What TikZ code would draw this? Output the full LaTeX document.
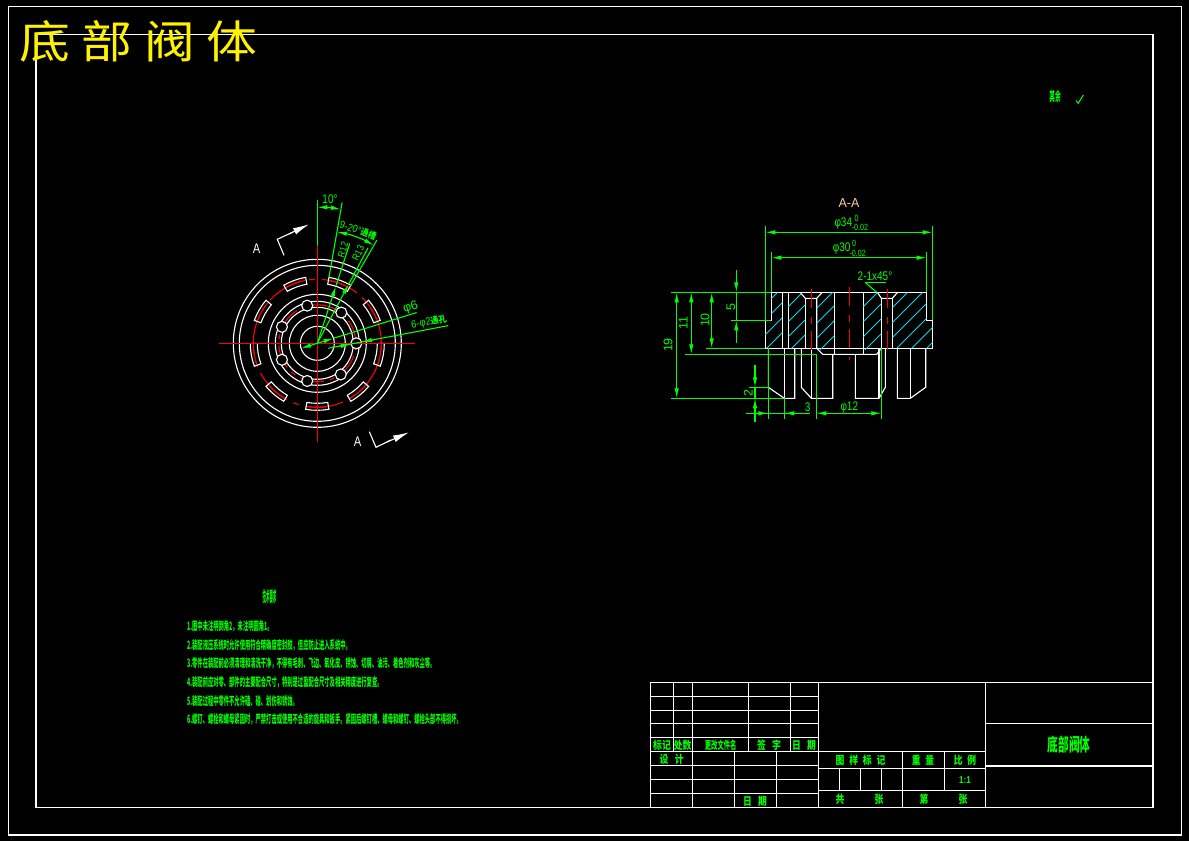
\documentclass[tikz,border=0pt]{standalone}
\usepackage{fontspec}
\setmainfont{Liberation Sans}
\newfontfamily\cjk{Noto Sans CJK SC}
\usetikzlibrary{arrows.meta}

\definecolor{cadgreen}{RGB}{0,255,0}
\definecolor{cadred}{RGB}{255,0,0}
\definecolor{cadcyan}{RGB}{0,220,235}
\definecolor{cadorange}{RGB}{255,204,153}

\tikzset{
	white line/.style = {
		draw = white,
		line width = 1.1pt
	},
	hatch line/.style = {
		draw = cadcyan,
		line width = 0.8pt
	},
	red line/.style = {
		draw = cadred,
		line width = 1.1pt
	},
	center line/.style = {
		red line,
		dash pattern = on 38pt off 7pt on 6pt off 7pt
	},
	inner center/.style = {
		red line,
		dash pattern = on 24pt off 6pt on 5pt off 6pt
	},
	axis line/.style = {
		red line,
		dash pattern = on 19pt off 9pt on 7pt off 7pt
	},
	dim line/.style = {
		draw = cadgreen,
		line width = 1.1pt
	},
	dim both/.style = {
		dim line,
		{Latex[length=10pt,width=4.5pt]}-{Latex[length=10pt,width=4.5pt]}
	},
	dim tip/.style = {
		dim line,
		-{Latex[length=10pt,width=4.5pt]}
	},
	cut tip/.style = {
		white line,
		-{Latex[length=16pt,width=7pt]}
	},
	dim text/.style = {
		text = cadgreen,
		inner sep = 0pt,
		font = \fontsize{12.5}{13}\selectfont,
		xscale = 0.8
	},
	turn text/.style = {
		text = cadgreen,
		inner sep = 0pt,
		font = \fontsize{12.5}{13}\selectfont,
		rotate = #1
	},
	tol text/.style = {
		dim text,
		font = \fontsize{9}{10}\selectfont
	},
	cut text/.style = {
		dim text,
		text = white,
		font = \fontsize{14}{15}\selectfont
	},
	note text/.style = {
		text = cadgreen,
		inner sep = 0pt,
		font = \cjk\bfseries\fontsize{11.5}{12}\selectfont,
		xscale = 0.46,
		anchor = west
	},
	table text/.style = {
		text = cadgreen,
		inner sep = 0pt,
		font = \cjk\bfseries\fontsize{11}{12}\selectfont,
		xscale = 0.8
	}
}

\begin{document}
\begin{tikzpicture}[x=1pt,y=-1pt]
	\useasboundingbox (0,0) rectangle (1189,841);
	\fill[black] (0,0) rectangle (1189,841);

	% frames
	\draw[white line] (8.3,6.3) rectangle (1181.3,835);
	\draw[white line] (36,34.5) rectangle (1153,807.3);
	\node at (138.5,41.5) [inner sep=0pt, text=yellow, xscale=1.13, font=\cjk\fontsize{45}{46}\selectfont] (title) {底\hspace{10pt}部\hspace{10pt}阀\hspace{10pt}体};
	\node at (1055,96) [table text, font=\cjk\bfseries\fontsize{13}{14}\selectfont, xscale=0.55] (rest) {其余};
	\draw[dim line] (1076,100.7) -- (1078.3,103.3) -- (1083.3,95);

	% front view
	\begin{scope}[shift={(317.3,343.3)},y=1pt]
		\foreach \rad in {84,78,49,42,36,28,17}
			\draw[white line] (0,0) circle (\rad);
		\draw[center line] (0,0) circle (64);
		\draw[inner center] (0,0) circle (38.5);
		\foreach \ang in {0,52,105,155,205,255,307}
			\draw[white line, fill=black] (\ang:39) circle (5.5);
		\foreach \ang in {70,30,-10,-50,-90,-130,-170,150,110} {
			\draw[white line] (\ang-10:60) arc (\ang-10:\ang+10:60) -- (\ang+10:67) arc (\ang+10:\ang-10:67) -- cycle;
			\draw[red line] (\ang-9:64) arc (\ang-9:\ang+9:64);
		}
		\draw[red line] (-98,0) -- (98,0);
		\draw[red line] (0,97) -- (0,-99);
		% angle dimensions
		\draw[dim line] (0,97) -- (0,143);
		\draw[dim line] (80:66) -- (80:143);
		\draw[dim line] (60:66) -- (60:119);
		\draw[dim both] (90:136) arc (90:80:136);
		\draw[dim both] (80:113) arc (80:60:113);
		\draw[dim tip] (0,0) -- (72:60);
		\draw[dim line] (72:60) -- (72:105);
		\draw[dim tip] (0,0) -- (62:67);
		\draw[dim line] (62:67) -- (62:108);
		% leaders
		\draw[dim both] (197.2:17) -- (17.2:17);
		\draw[dim line] (17.2:17) -- (17.2:104);
		\draw[dim line] (11,-5) -- (131,17.7);
		\draw[dim tip] (21,-3.1) -- (33.5,-0.7);
		\draw[dim tip] (57,3.8) -- (44.5,1.3);
		\node at (74.7:97) [turn text=74, font=\fontsize{10}{11}\selectfont, xscale=0.85] (radinner) {R12};
		\node at (65.6:99) [turn text=64, font=\fontsize{10}{11}\selectfont, xscale=0.85] (radouter) {R13};
	\end{scope}

	% section marks
	\draw[white line] (284,255.3) -- (277.3,239.3) -- (293,232);
	\draw[cut tip] (289,234) -- (309,224.3);
	\node at (256.7,248.3) [cut text] (cutleft) {A};
	\draw[white line] (369.3,431.7) -- (376,447.3) -- (391,440);
	\draw[cut tip] (387,442) -- (409,432.3);
	\node at (357.7,441.7) [cut text] (cutright) {A};
	\node at (330,199.5) [dim text] (tenang) {10°};
	\node at (358,230.5) [turn text=-19, font=\fontsize{10.5}{11}\selectfont, xscale=0.88] (slottext) {9-20°{\cjk\bfseries\fontsize{9}{10}\selectfont 通槽}};
	\node at (410.7,307.3) [turn text=17] (bore) {φ6};
	\node at (429,322.5) [turn text=10, font=\fontsize{10.5}{11}\selectfont, xscale=0.9] (holes) {6-φ2{\cjk\bfseries\fontsize{9}{10}\selectfont 通孔}};

	% section view
	\draw[white line] (771.3,292.3) -- (926.7,292.3) -- (926.7,320.3) -- (932.7,320.3) -- (932.7,348.3) -- (765.3,348.3) -- (765.3,320.3) -- (771.3,320.3) -- cycle;
	\draw[white line] (782.3,292.3) -- (782.3,348.3);
	\draw[white line] (788.3,292.3) -- (788.3,348.3);
	\draw[white line] (800,292.3) -- (805.3,298.3) -- (816.7,298.3) -- (822.3,292.3);
	\draw[white line] (805.3,298.3) -- (805.3,348.3);
	\draw[white line] (816.7,298.3) -- (816.7,348.3) -- (822.7,354.3) -- (876.7,354.3) -- (881.3,348.3);
	\draw[white line] (834.3,292.3) -- (834.3,354.3);
	\draw[white line] (863.3,292.3) -- (863.3,354.3);
	\draw[white line] (877.3,292.3) -- (881.3,298.3) -- (892.3,298.3) -- (897.7,292.3);
	\draw[white line] (881.3,298.3) -- (881.3,348.3);
	\draw[white line] (892.3,298.3) -- (892.3,348.3);
	% legs
	\draw[white line] (768.3,348.3) -- (768.3,387.3) -- (784.3,398.3) -- (794.7,398.3) -- (794.7,348.3);
	\draw[white line] (784.3,348.3) -- (784.3,398.3);
	\draw[white line] (801.3,348.3) -- (801.3,387.3) -- (811.3,398.3) -- (832.7,398.3) -- (832.7,354.3);
	\draw[white line] (811.3,348.3) -- (811.3,398.3);
	\draw[white line] (855.3,354.3) -- (855.3,398.3) -- (879,398.3) -- (885.3,387.3) -- (885.3,348.3);
	\draw[white line] (879,348.3) -- (879,398.3);
	\draw[white line] (897.3,348.3) -- (897.3,398.3) -- (910.3,398.3) -- (925.7,387.3) -- (925.7,348.3);
	\draw[white line] (910.3,348.3) -- (910.3,398.3);
	% hatching
	\begin{scope}
		\clip (771.3,292.3) -- (782.3,292.3) -- (782.3,348.3) -- (765.3,348.3) -- (765.3,320.3) -- (771.3,320.3) -- cycle;
		\foreach \hx in {705,720,...,780}
			\draw[hatch line] (\hx,350) -- ++(70,-70);
	\end{scope}
	\begin{scope}
		\clip (788.3,292.3) -- (800,292.3) -- (805.3,298.3) -- (805.3,348.3) -- (788.3,348.3) -- cycle;
		\foreach \hx in {730,745,...,805}
			\draw[hatch line] (\hx,350) -- ++(70,-70);
	\end{scope}
	\begin{scope}
		\clip (822.3,292.3) -- (834.3,292.3) -- (834.3,354.3) -- (822.7,354.3) -- (816.7,348.3) -- (816.7,298.3) -- cycle;
		\foreach \hx in {760,775,...,835}
			\draw[hatch line] (\hx,350) -- ++(70,-70);
	\end{scope}
	\begin{scope}
		\clip (863.3,292.3) -- (877.3,292.3) -- (881.3,298.3) -- (881.3,348.3) -- (876.7,354.3) -- (863.3,354.3) -- cycle;
		\foreach \hx in {805,820,...,880}
			\draw[hatch line] (\hx,350) -- ++(70,-70);
	\end{scope}
	\begin{scope}
		\clip (897.7,292.3) -- (926.7,292.3) -- (926.7,320.3) -- (932.7,320.3) -- (932.7,348.3) -- (892.3,348.3) -- (892.3,298.3) -- cycle;
		\foreach \hx in {835,850,...,930}
			\draw[hatch line] (\hx,350) -- ++(70,-70);
	\end{scope}
	% axes
	\draw[axis line] (811.3,289) -- (811.3,352);
	\draw[axis line] (849.3,287) -- (849.3,360);
	\draw[axis line] (887.7,289) -- (887.7,352);

	% section dimensions
	\node at (849,203) [dim text, text=cadorange, xscale=1.2, font=\fontsize{13}{14}\selectfont] (sectionname) {A-A};
	\draw[dim line] (765.3,226) -- (765.3,320.3);
	\draw[dim line] (932.7,226) -- (932.7,320.3);
	\draw[dim line] (771.3,251.7) -- (771.3,292.3);
	\draw[dim line] (926.7,251.7) -- (926.7,292.3);
	\draw[dim both] (765.3,232.3) -- (932.7,232.3);
	\draw[dim both] (771.3,257.7) -- (926.7,257.7);
	\node at (843.3,223) [dim text] (widthA) {φ34};
	\node at (856.7,218) [tol text] (widthAup) {0};
	\node at (860,227.7) [tol text] (widthAlow) {-0.02};
	\node at (841.7,248.5) [dim text] (widthB) {φ30};
	\node at (854,243.5) [tol text] (widthBup) {0};
	\node at (857.7,253.3) [tol text] (widthBlow) {-0.02};
	\node at (875,276) [dim text] (chamfer) {2-1x45°};
	\draw[dim line] (865,282.3) -- (886,282.3);
	\draw[dim line] (865,282.3) -- (876.7,292.3);
	\draw[dim line] (671,292.3) -- (771.3,292.3);
	\draw[dim line] (671,398.3) -- (784.3,398.3);
	\draw[dim line] (706,348.3) -- (765.3,348.3);
	\draw[dim line] (685,354.3) -- (816.7,354.3);
	\draw[dim line] (731,320.3) -- (771.3,320.3);
	\draw[dim both] (676.7,292.3) -- (676.7,398.3);
	\draw[dim both] (691.3,292.3) -- (691.3,354.3);
	\draw[dim both] (711.7,292.3) -- (711.7,348.3);
	\draw[dim tip] (736.3,270) -- (736.3,292.3);
	\draw[dim tip] (736.3,342.7) -- (736.3,320.3);
	\draw[dim line] (736.3,292.3) -- (736.3,320.3);
	\node at (668,345) [turn text=90] (heightA) {19};
	\node at (683.3,322.7) [turn text=90] (heightB) {11};
	\node at (705,320) [turn text=90] (heightC) {10};
	\node at (731,306.7) [turn text=90] (heightD) {5};
	\draw[dim line] (749,387.3) -- (768.3,387.3);
	\draw[dim tip] (755,365) -- (755,387.3);
	\draw[dim tip] (755,421.7) -- (755,398.3);
	\draw[dim line] (755,387.3) -- (755,398.3);
	\node at (748.3,393.3) [turn text=90] (heightE) {2};
	\draw[dim line] (768.3,348.3) -- (768.3,418.7);
	\draw[dim line] (784.3,398.3) -- (784.3,418.7);
	\draw[dim line] (746,413.3) -- (810,413.3);
	\draw[dim tip] (746,413.3) -- (768.3,413.3);
	\draw[dim tip] (805,413.3) -- (784.3,413.3);
	\node at (807.7,406.7) [dim text] (widthC) {3};
	\draw[dim line] (816.3,354.3) -- (816.3,418.7);
	\draw[dim line] (881.3,348.3) -- (881.3,418.7);
	\draw[dim both] (816.3,413.3) -- (881.3,413.3);
	\node at (849.3,407) [dim text] (widthD) {φ12};

	% technical notes
	\node at (269.5,597) [note text, anchor=center, font=\cjk\bfseries\fontsize{15}{16}\selectfont, xscale=0.5] (notehead) {技术要求};
	\node at (187,626) [note text] (noteA) {1.图中未注明倒角2，未注明圆角1。};
	\node at (187,645) [note text] (noteB) {2.装配液压系统时允许使用符合精确度密封胶，但应防止进入系统中。};
	\node at (187,663.5) [note text] (noteC) {3.零件在装配前必须清理和清洗干净，不得有毛刺、飞边、氧化皮、锈蚀、切屑、油污、着色剂和灰尘等。};
	\node at (187,682.5) [note text] (noteD) {4.装配前应对零、部件的主要配合尺寸，特别是过盈配合尺寸及相关精度进行复查。};
	\node at (187,701) [note text] (noteE) {5.装配过程中零件不允许磕、碰、划伤和锈蚀。};
	\node at (187,719.5) [note text] (noteF) {6.螺钉、螺栓和螺母紧固时，严禁打击或使用不合适的旋具和扳手。紧固后螺钉槽、螺母和螺钉、螺栓头部不得损坏。};

	% title block
	\draw[white line] (650.3,682.3) -- (1153,682.3);
	\draw[white line] (985.3,723.7) -- (1153,723.7);
	\draw[white line] (985.3,766) -- (1153,766);
	\draw[white line] (650.3,682.3) -- (650.3,807.3);
	\draw[white line] (818.3,682.3) -- (818.3,807.3);
	\draw[white line] (985.3,682.3) -- (985.3,807.3);
	\foreach \rowy in {696.3,710.3,723.7,737.7,751.3,765.3,779.3,793.3}
		\draw[white line] (650.3,\rowy) -- (818.3,\rowy);
	\foreach \colx in {673.3,748.3,790.3}
		\draw[white line] (\colx,682.3) -- (\colx,751.3);
	\draw[white line] (692.3,682.3) -- (692.3,807.3);
	\draw[white line] (734.3,751.3) -- (734.3,807.3);
	\draw[white line] (776.3,751.3) -- (776.3,807.3);
	\draw[white line] (818.3,751.3) -- (985.3,751.3);
	\draw[white line] (818.3,768.3) -- (985.3,768.3);
	\draw[white line] (818.3,790.3) -- (985.3,790.3);
	\draw[white line] (902.3,751.3) -- (902.3,807.3);
	\draw[white line] (944.3,751.3) -- (944.3,790.3);
	\foreach \colx in {839.3,860.3,881.3}
		\draw[white line] (\colx,768.3) -- (\colx,790.3);
	\node at (662,745) [table text] (markA) {标记};
	\node at (682.7,745) [table text] (markB) {处数};
	\node at (720.7,745) [table text, xscale=0.72] (markC) {更改文件名};
	\node at (769,745) [table text] (markD) {签\hspace{8pt}字};
	\node at (804,745) [table text] (markE) {日\hspace{8pt}期};
	\node at (671.7,759) [table text] (designer) {设\hspace{8pt}计};
	\node at (755,801) [table text] (dateB) {日\hspace{8pt}期};
	\node at (860.5,760) [table text] (markF) {图\hspace{6pt}样\hspace{6pt}标\hspace{6pt}记};
	\node at (923,760) [table text] (weight) {重\hspace{6pt}量};
	\node at (965,760) [table text] (ratio) {比\hspace{6pt}例};
	\node at (965,780) [table text, font=\bfseries\fontsize{10}{11}\selectfont] (ratioval) {1:1};
	\node at (840,799) [table text] (sheetA) {共};
	\node at (879,799) [table text] (sheetB) {张};
	\node at (924,799) [table text] (sheetC) {第};
	\node at (963,799) [table text] (sheetD) {张};
	\node at (1069,745) [table text, font=\cjk\bfseries\fontsize{18}{19}\selectfont, xscale=0.74] (partname) {底部阀体};
\end{tikzpicture}
\end{document}
